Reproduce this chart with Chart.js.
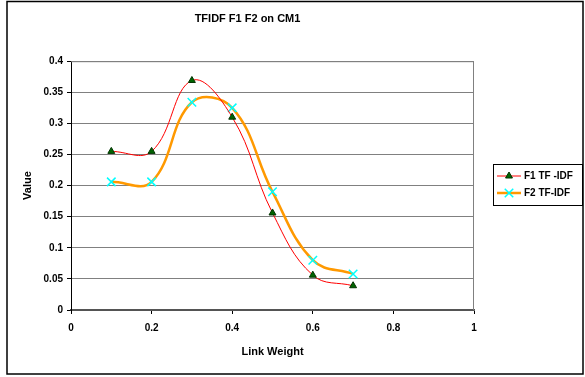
<!DOCTYPE html>
<html>
<head>
<meta charset="utf-8">
<script src="https://cdn.jsdelivr.net/npm/chart.js@4/dist/chart.umd.min.js"></script>
<style>
  html, body { margin: 0; padding: 0; background: #fff; }
  #wrap { width: 585px; height: 377px; position: relative; }
</style>
</head>
<body>
<div id="wrap"><canvas id="graph"></canvas></div>
<script>
// Data
var linkWeight = [0.1, 0.2, 0.3, 0.4, 0.5, 0.6, 0.7];
var f1Values = [0.255, 0.255, 0.369, 0.310, 0.156, 0.056, 0.039];
var f2Values = [0.206, 0.206, 0.334, 0.325, 0.190, 0.080, 0.058];
var seriesNames = ['F1 TF -IDF', 'F2 TF-IDF'];

var ctx = document.getElementById('graph').getContext('2d');
var font = 'Arial, "Liberation Sans", sans-serif';

function toPoints(xs, ys) {
    return xs.map(function(x, i) { return {x: x, y: ys[i]}; });
}

// Draw a marker like the series uses
function drawMarker(c, ds, x, y) {
    c.save();
    c.fillStyle = ds.pointBackgroundColor;
    c.strokeStyle = ds.pointBorderColor;
    c.lineWidth = ds.pointBorderWidth;
    Chart.helpers.drawPoint(c, {
        pointStyle: ds.pointStyle,
        radius: ds.pointRadius,
        borderWidth: ds.pointBorderWidth
    }, x, y);
    c.restore();
}

// Outer frame, plot box and boxed legend
var framePlugin = {
    id: 'frame',
    beforeDraw: function(chart) {
        var c = chart.ctx;
        c.save();
        c.fillStyle = '#fff';
        c.fillRect(0, 0, chart.width, chart.height);
        c.restore();
    },
    afterDraw: function(chart) {
        var c = chart.ctx;
        var a = chart.chartArea;
        c.save();
        // outer border
        c.strokeStyle = '#000';
        c.lineWidth = 1.5;
        c.strokeRect(7, 1.5, 576, 372.5);
        // plot area right/top edges
        c.lineWidth = 1;
        c.strokeStyle = '#808080';
        c.beginPath();
        c.moveTo(a.left, a.top + 0.5);
        c.lineTo(a.right - 0.5, a.top + 0.5);
        c.lineTo(a.right - 0.5, a.bottom);
        c.stroke();
        // legend box
        var lx = 493, ly = 164, lw = 89, lh = 41;
        c.strokeStyle = '#000';
        c.strokeRect(lx + 0.5, ly + 0.5, lw, lh);
        c.font = 'bold 10px ' + font;
        c.textBaseline = 'middle';
        chart.data.datasets.forEach(function(ds, i) {
            var y = ly + 12 + i * 17;
            c.strokeStyle = ds.borderColor;
            c.lineWidth = ds.borderWidth;
            c.beginPath();
            c.moveTo(lx + 4, y);
            c.lineTo(lx + 28, y);
            c.stroke();
            drawMarker(c, ds, lx + 16, y);
            c.fillStyle = '#000';
            c.fillText(ds.label, lx + 31, y);
        });
        c.restore();
    }
};

var chart = new Chart(ctx, {
    type: 'line',
    data: {
        datasets: [{
            label: seriesNames[0],
            data: toPoints(linkWeight, f1Values),
            borderColor: '#ff0000',
            borderWidth: 1,
            tension: 0.4,
            pointStyle: 'triangle',
            pointRadius: 4,
            pointBackgroundColor: '#006400',
            pointBorderColor: '#003300',
            pointBorderWidth: 1,
            order: 1
        }, {
            label: seriesNames[1],
            data: toPoints(linkWeight, f2Values),
            borderColor: '#ff9900',
            borderWidth: 2.5,
            tension: 0.4,
            pointStyle: 'crossRot',
            pointRadius: 6,
            pointBackgroundColor: '#00ffff',
            pointBorderColor: '#00ffff',
            pointBorderWidth: 1.5,
            order: 2
        }]
    },
    options: {
        responsive: true,
        maintainAspectRatio: false,
        animation: false,
        layout: { padding: { left: 21, right: 111, top: 0, bottom: 12 } },
        plugins: {
            legend: { display: false },
            tooltip: { enabled: false },
            title: {
                display: true,
                text: 'TFIDF F1 F2 on CM1',
                color: '#000',
                font: { family: font, size: 11, weight: 'bold' },
                padding: { top: 12, bottom: 36 }
            }
        },
        scales: {
            x: {
                type: 'linear',
                min: 0,
                max: 1,
                ticks: {
                    stepSize: 0.2,
                    color: '#000',
                    font: { family: font, size: 10, weight: 'bold' },
                    padding: 8,
                    callback: function(v) { return parseFloat(v.toFixed(1)); }
                },
                grid: {
                    drawOnChartArea: false,
                    drawTicks: true,
                    tickLength: 4,
                    color: '#000'
                },
                border: { color: '#555', width: 1.5 },
                title: {
                    display: true,
                    text: 'Link Weight',
                    color: '#000',
                    font: { family: font, size: 11, weight: 'bold' },
                    padding: { top: 6, bottom: 6 }
                },
                afterFit: function(scale) { scale.height = 55; }
            },
            y: {
                min: 0,
                max: 0.4,
                ticks: {
                    stepSize: 0.05,
                    color: '#000',
                    font: { family: font, size: 10, weight: 'bold' },
                    padding: 4,
                    callback: function(v) { return parseFloat(v.toFixed(2)); }
                },
                grid: {
                    color: function(c) { return c.tick.value === 0 ? '#555' : '#808080'; },
                    lineWidth: 1,
                    tickLength: 4,
                    tickColor: '#000'
                },
                border: { color: '#000', width: 1 },
                title: {
                    display: true,
                    text: 'Value',
                    color: '#000',
                    font: { family: font, size: 11, weight: 'bold' },
                    padding: { top: 0, bottom: 4 }
                },
                afterFit: function(scale) { scale.width = 50; }
            }
        }
    },
    plugins: [framePlugin]
});
</script>
</body>
</html>
